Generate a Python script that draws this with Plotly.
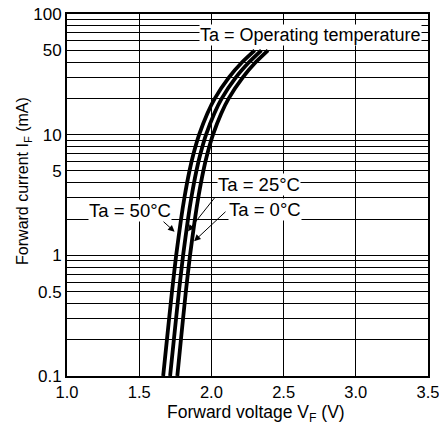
import plotly.graph_objects as go
import numpy as np

# Forward current (mA) sample points
current_ma = [0.1, 0.2, 0.5, 1, 2, 3, 5, 7, 10, 15, 20, 30, 40, 50]
# Forward voltage (V) for each ambient temperature
vf_50c = [1.666, 1.692, 1.727, 1.756, 1.790, 1.813, 1.848, 1.877, 1.915, 1.972, 2.024, 2.123, 2.214, 2.300]
vf_25c = [1.714, 1.740, 1.775, 1.804, 1.838, 1.861, 1.896, 1.925, 1.963, 2.020, 2.072, 2.171, 2.262, 2.346]
vf_0c = [1.764, 1.789, 1.823, 1.852, 1.886, 1.909, 1.944, 1.973, 2.011, 2.068, 2.120, 2.219, 2.308, 2.392]

x_ticks = [1.0, 1.5, 2.0, 2.5, 3.0, 3.5]
x_ticktext = ["1.0", "1.5", "2.0", "2.5", "3.0", "3.5"]
y_grid = [m * 10.0 ** e for e in (-1, 0, 1) for m in range(1, 10)] + [100]
y_labels = {0.1: "0.1", 0.5: "0.5", 1: "1", 5: "5", 10: "10", 50: "50", 100: "100"}

# label positions (V, mA) and arrows (tail V, tail mA, head V, head mA)
labels = [
    ("Ta = Operating temperature", 2.683, 66.5, 18),
    ("Ta = 25°C", 2.330, 3.87, 18.5),
    ("Ta = 0°C", 2.371, 2.40, 18.5),
    ("Ta = 50°C", 1.436, 2.36, 18.5),
]
arrows = [
    (1.658, 1.95, 1.745, 1.57),
    (2.032, 3.10, 1.838, 1.58),
    (2.108, 2.36, 1.880, 1.31),
]
x_title = "Forward voltage V<sub>F</sub> (V)"
y_title = "Forward current I<sub>F</sub> (mA)"

font = "Liberation Sans, Arial, Helvetica, sans-serif"
fig = go.Figure()
for vf in (vf_50c, vf_25c, vf_0c):
    fig.add_trace(go.Scatter(x=vf, y=current_ma, mode="lines",
                             line=dict(color="black", width=3.8, shape="spline", smoothing=0.6),
                             showlegend=False, hoverinfo="skip"))

for text, xv, yv, fs in labels:
    fig.add_annotation(x=xv, y=np.log10(yv), text=text, showarrow=False,
                       bgcolor="white", borderpad=0,
                       font=dict(family=font, size=fs, color="black"))
for tx, ty, hx, hy in arrows:
    fig.add_annotation(x=hx, y=np.log10(hy), ax=tx, ay=np.log10(ty),
                       axref="x", ayref="y", xref="x", yref="y", text="",
                       showarrow=True, arrowhead=2, arrowsize=1.3, arrowwidth=1,
                       arrowcolor="black", standoff=0, startstandoff=0)

# axis titles as annotations for exact placement
fig.add_annotation(xref="paper", yref="paper", x=0.5235, y=-0.103, text=x_title,
                   showarrow=False, xanchor="center", yanchor="middle",
                   font=dict(family=font, size=17.5, color="black"))
fig.add_annotation(xref="paper", yref="paper", x=-0.119, y=0.539, text=y_title,
                   showarrow=False, xanchor="center", yanchor="middle", textangle=-90,
                   font=dict(family=font, size=16, color="black"))

fig.update_xaxes(range=[1.0, 3.5], tickvals=x_ticks, ticktext=x_ticktext,
                 showgrid=True, gridcolor="black", gridwidth=1,
                 showline=True, linecolor="black", linewidth=2, mirror=True,
                 zeroline=False, ticks="", ticklabeloverflow="allow",
                 tickfont=dict(family=font, size=16.5, color="black"))
fig.update_yaxes(type="log", range=[-1, 2], tickvals=y_grid,
                 ticktext=[y_labels.get(round(v, 6), "") for v in y_grid],
                 showgrid=True, gridcolor="black", gridwidth=1,
                 showline=True, linecolor="black", linewidth=2, mirror=True,
                 zeroline=False, ticks="", ticklabeloverflow="allow",
                 tickfont=dict(family=font, size=17, color="black"))
fig.update_layout(width=439, height=430, plot_bgcolor="white", paper_bgcolor="white",
                  margin=dict(l=67, r=11, t=14, b=54, autoexpand=False))
# remove the page's default body margin so the figure fills the window exactly
fig.write_html("out.html", config={"displayModeBar": False},
               post_script="document.body.style.margin='0';document.body.style.overflow='hidden';")
